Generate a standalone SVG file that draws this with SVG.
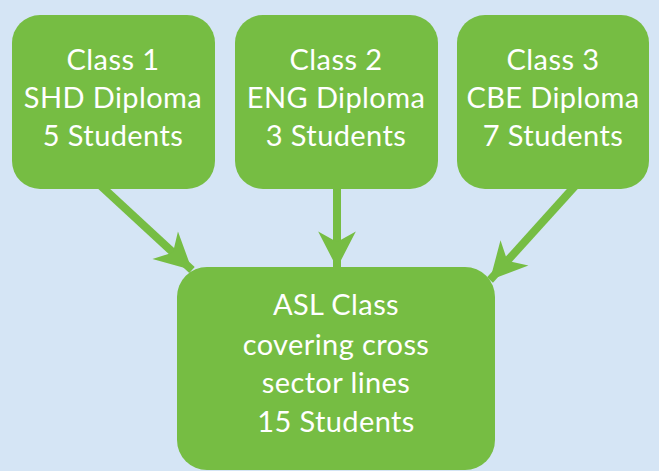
<svg xmlns="http://www.w3.org/2000/svg" width="659" height="471" viewBox="0 0 659 471">
<style>
.box{fill:#76BD43}
.t{font-family:Lato,"Open Sans","Liberation Sans",sans-serif;font-size:29px;letter-spacing:0.4px;fill:#fff;text-anchor:middle}
.c{stroke:#76BD43;stroke-width:8;fill:none;marker-end:url(#ah)}
</style>
<defs>
<marker id="ah" markerUnits="userSpaceOnUse" markerWidth="40" markerHeight="40" viewBox="-32 -17 34 34" refX="0" refY="0" orient="auto">
<path d="M0,0 L-31,-16 L-22,0 L-31,16 Z" fill="#76BD43"/>
</marker>
</defs>
<rect width="659" height="471" fill="#D5E5F5"/>
<g id="connectors">
<line class="c" x1="101" y1="186" x2="192" y2="270"/>
<line class="c" x1="337" y1="186" x2="337" y2="268"/>
<line class="c" x1="575" y1="186" x2="490" y2="280"/>
</g>
<g id="class1">
<rect class="box" x="12" y="15" width="203" height="174" rx="28"/>
<text class="t" x="113" y="70">Class 1</text>
<text class="t" x="113" y="108">SHD Diploma</text>
<text class="t" x="113" y="146">5 Students</text>
</g>
<g id="class2">
<rect class="box" x="235" y="15" width="203" height="174" rx="28"/>
<text class="t" x="336" y="70">Class 2</text>
<text class="t" x="336" y="108">ENG Diploma</text>
<text class="t" x="336" y="146">3 Students</text>
</g>
<g id="class3">
<rect class="box" x="457" y="15" width="192" height="174" rx="28"/>
<text class="t" x="553" y="70">Class 3</text>
<text class="t" x="553" y="108">CBE Diploma</text>
<text class="t" x="553" y="146">7 Students</text>
</g>
<g id="asl">
<rect class="box" x="177" y="267" width="318" height="203" rx="30"/>
<text class="t" x="336" y="315">ASL Class</text>
<text class="t" x="336" y="355">covering cross</text>
<text class="t" x="336" y="393">sector lines</text>
<text class="t" x="336" y="432">15 Students</text>
</g>
</svg>
